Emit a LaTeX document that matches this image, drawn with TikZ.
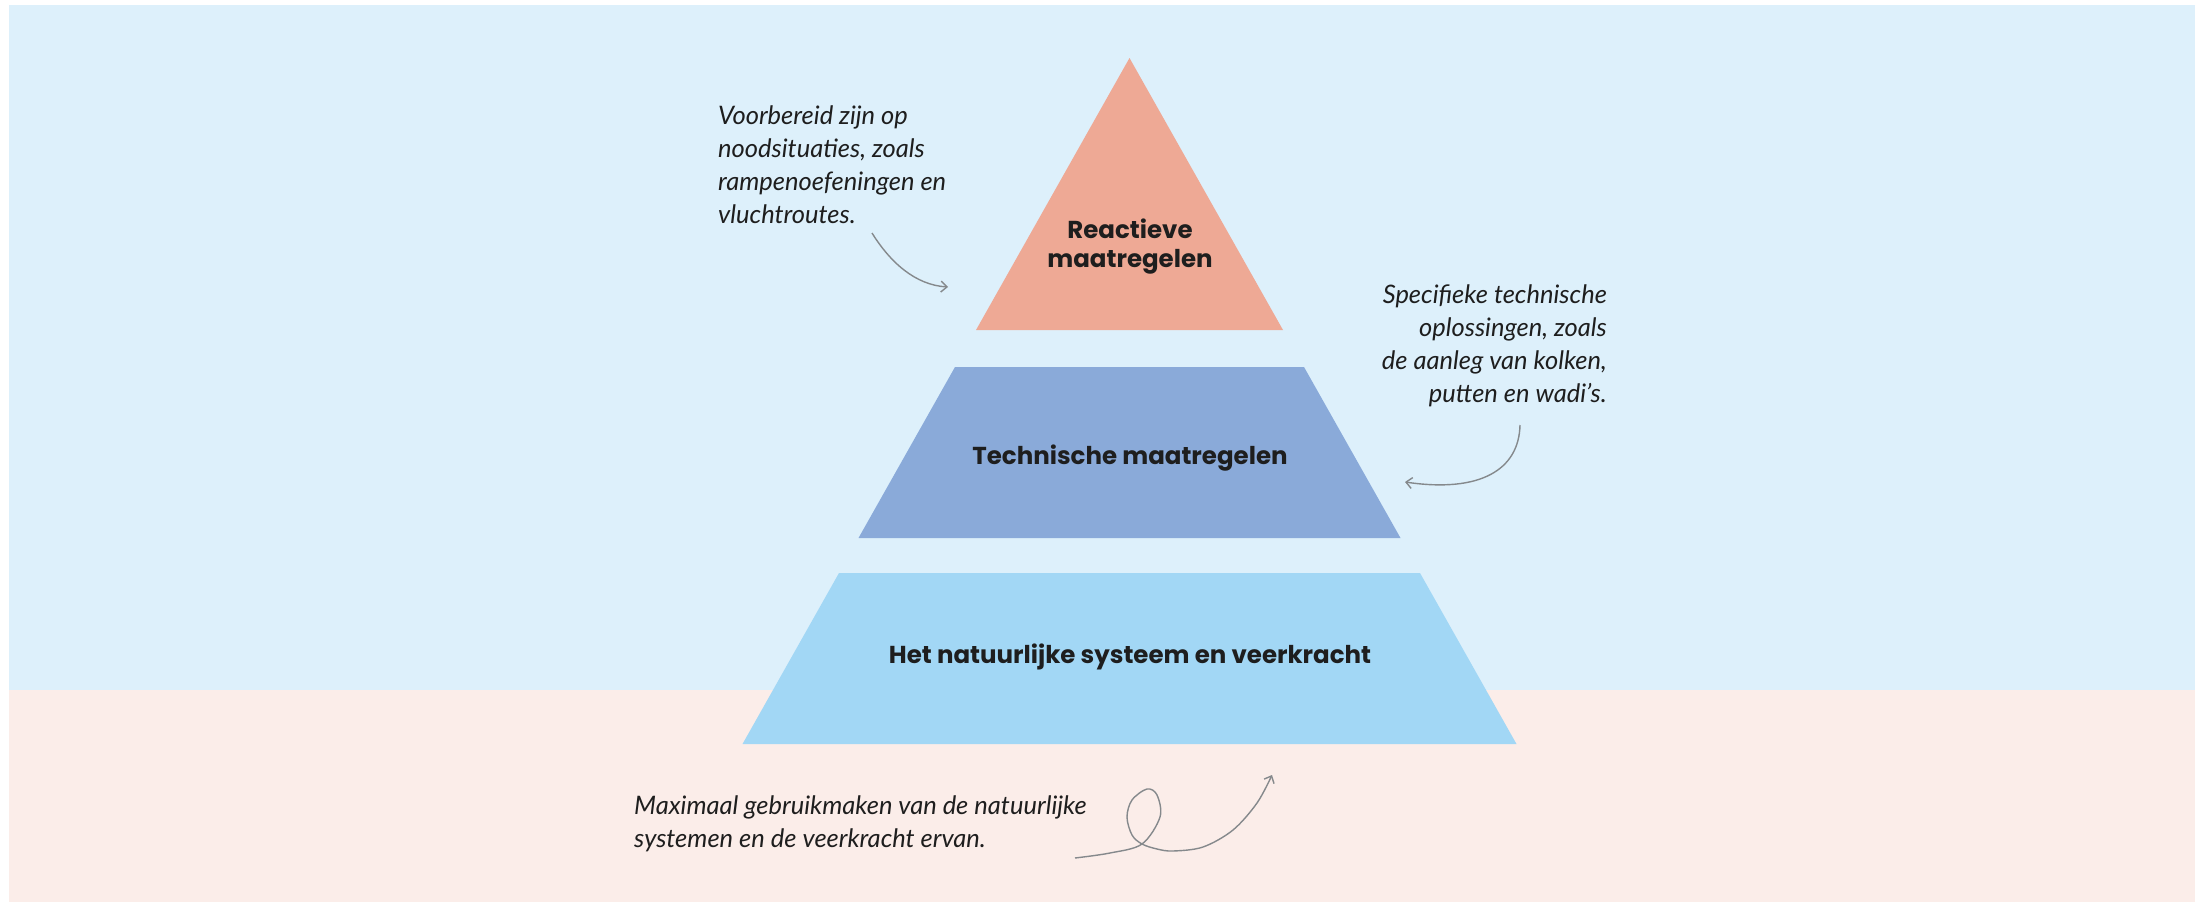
\documentclass[tikz,border=0pt]{standalone}
\usepackage{fontspec}
\setmainfont{Lato}
\newfontfamily\labelfont{Poppins}
\usepackage{xcolor}
\usetikzlibrary{arrows.meta,positioning,calc}

\definecolor{skyback}{HTML}{DDF0FB}
\definecolor{sandback}{HTML}{FBEDE9}
\definecolor{reactfill}{HTML}{EEA995}
\definecolor{techfill}{HTML}{8AAAD9}
\definecolor{natfill}{HTML}{A2D7F5}
\definecolor{inktext}{HTML}{1E1E1E}
\definecolor{arrowgray}{HTML}{85898C}

\begin{document}
\begin{tikzpicture}[
    x=1pt, y=-1pt,
    layer/.style={font=\labelfont\bfseries\fontsize{24.5}{29}\selectfont, text=inktext, align=center, inner sep=0pt},
    note/.style={font=\itshape\fontsize{25.5}{33}\selectfont, text=inktext, inner sep=0pt},
    arrow/.style={-{Straight Barb[length=6pt,width=11pt]}, line width=1.4pt, draw=arrowgray}
]
    % background
    \useasboundingbox (0,0) rectangle (2201,902);
    \fill[white] (0,0) rectangle (2201,902);
    \fill[skyback] (9,5) rectangle (2195,690);
    \fill[sandback] (9,690) rectangle (2195,902);

    % pyramid layers
    \fill[reactfill] (1129.5,58) -- (1283,330) -- (976,330) -- cycle;
    \fill[techfill] (955,367) -- (1304,367) -- (1400.5,538) -- (858.5,538) -- cycle;
    \fill[natfill] (839,573) -- (1420,573) -- (1516.5,744) -- (742.5,744) -- cycle;

    \node[layer] (react) at (1130,247) {Reactieve\\maatregelen};
    \node[layer] (tech) at (1130,458) {Technische maatregelen};
    \node[layer] (nat) at (1130,657) {Het natuurlijke systeem en veerkracht};

    % notes
    \node[note, anchor=north west, align=left] (reactnote) at (718,106)
        {Voorbereid zijn op\\noodsituaties, zoals\\rampenoefeningen en\\vluchtroutes.};
    \node[note, anchor=north east, align=right] (technote) at (1607,285)
        {Specifieke technische\\oplossingen, zoals\\de aanleg van kolken,\\putten en wadi's.};
    \node[note, anchor=north west, align=left] (natnote) at (634,796)
        {Maximaal gebruikmaken van de natuurlijke\\systemen en de veerkracht ervan.};

    \coordinate (reactfrom) at (872,233);
    \coordinate (reactto) at (948,287);
    \coordinate (techfrom) at (1520,425);
    \coordinate (techto) at (1405,482);
    \coordinate (natfrom) at (1075,858);
    \coordinate (natto) at (1272,775);

    \draw[arrow] (reactfrom) .. controls (890,262) and (915,285) .. (reactto);
    \draw[arrow] (techfrom) .. controls (1519,470) and (1480,493) .. (techto);
    \draw[arrow] plot[smooth, tension=0.55] coordinates {(natfrom) (1110,853) (1142,844)
        (1160,817) (1157,795) (1147,789) (1132,800) (1127,817) (1132,835) (1142,844)
        (1157,849) (1173,851) (1203,847) (1233,830) (1257,803) (natto)};
\end{tikzpicture}
\end{document}
